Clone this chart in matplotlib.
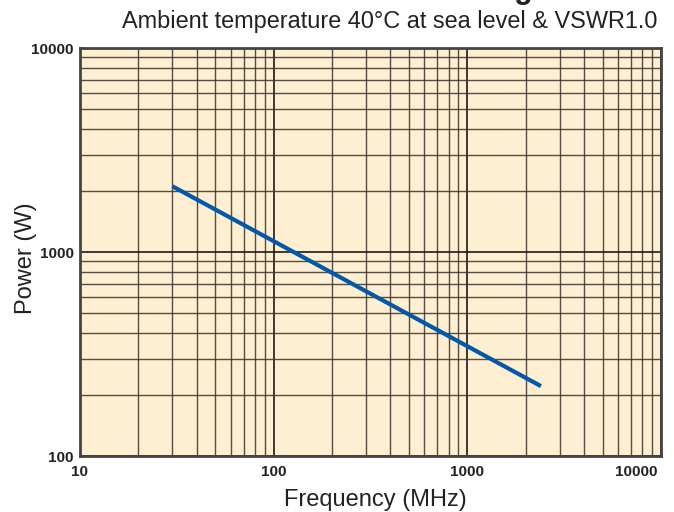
import matplotlib
matplotlib.use("Agg")
import matplotlib.pyplot as plt
import matplotlib.transforms as mtransforms
from matplotlib.ticker import FixedLocator, FixedFormatter, LogLocator, NullFormatter

plt.rcParams['font.family'] = ['Liberation Sans', 'DejaVu Sans']

# data
freq_mhz = [30, 2400]
power_w = [2100, 220]
x_ticks = [10, 100, 1000, 10000]
x_tick_labels = ["10", "100", "1000", "10000"]
y_ticks = [100, 1000, 10000]
y_tick_labels = ["100", "1000", "10000"]
title_text = "Power Rating"
subtitle_text = "Ambient temperature 40°C at sea level & VSWR1.0"

fig = plt.figure(figsize=(6.74, 5.12), dpi=100)
ax = fig.add_axes([80/674, 56/512, 581/674, 408/512])
ax.set_facecolor('#FEEED2')
ax.set_xscale('log')
ax.set_yscale('log')
ax.set_xlim(10, 10000)
ax.set_ylim(100, 10000)

ax.xaxis.set_major_locator(FixedLocator(x_ticks))
ax.xaxis.set_major_formatter(FixedFormatter(x_tick_labels))
ax.yaxis.set_major_locator(FixedLocator(y_ticks))
ax.yaxis.set_major_formatter(FixedFormatter(y_tick_labels))
ax.xaxis.set_minor_locator(LogLocator(base=10, subs=range(2, 10), numticks=20))
ax.yaxis.set_minor_locator(LogLocator(base=10, subs=range(2, 10), numticks=20))
ax.xaxis.set_minor_formatter(NullFormatter())
ax.yaxis.set_minor_formatter(NullFormatter())

ax.grid(True, which='major', color='#1e1a16', linewidth=1.2)
ax.grid(True, which='minor', color='#3a322a', linewidth=1.0, alpha=0.85)
ax.set_axisbelow(True)

ax.tick_params(which='both', length=0)
ax.tick_params(axis='x', which='major', labelsize=11, pad=6.5)
ax.tick_params(axis='y', which='major', labelsize=11, pad=4.5)
for lab in ax.get_xticklabels() + ax.get_yticklabels():
    lab.set_fontweight('bold')
    lab.set_color('#222222')

# last x tick label right-aligned just inside the axis end
last_tick = ax.xaxis.get_major_ticks()[-1]
last_tick.label1.set_horizontalalignment('right')
last_tick.label1.set_transform(last_tick.label1.get_transform() +
                               mtransforms.ScaledTranslation(-4/100, 0, fig.dpi_scale_trans))

for s in ax.spines.values():
    s.set_color('#444444')
    s.set_linewidth(2.0)

ax.plot(freq_mhz, power_w, color='#0458A8', linewidth=3.0, solid_capstyle='butt', zorder=3)

ax.set_xlabel("Frequency (MHz)", fontsize=17, color='#222222', va='baseline')
ax.xaxis.set_label_coords((375 - 80) / 581, (6 - 56) / 408)
ax.set_ylabel("Power (W)", fontsize=17, color='#222222', va='center')
ax.yaxis.set_label_coords((26 - 80) / 581, (254 - 56) / 408)

fig.text(657/674, 1 - 28/512, subtitle_text, ha='right', va='baseline', fontsize=16.9, color='#222222')
fig.text(533/674, 1 + 2/512, title_text, ha='right', va='baseline', fontsize=22,
         fontweight='bold', color='#222222')

fig.savefig("out.png", dpi=100)
